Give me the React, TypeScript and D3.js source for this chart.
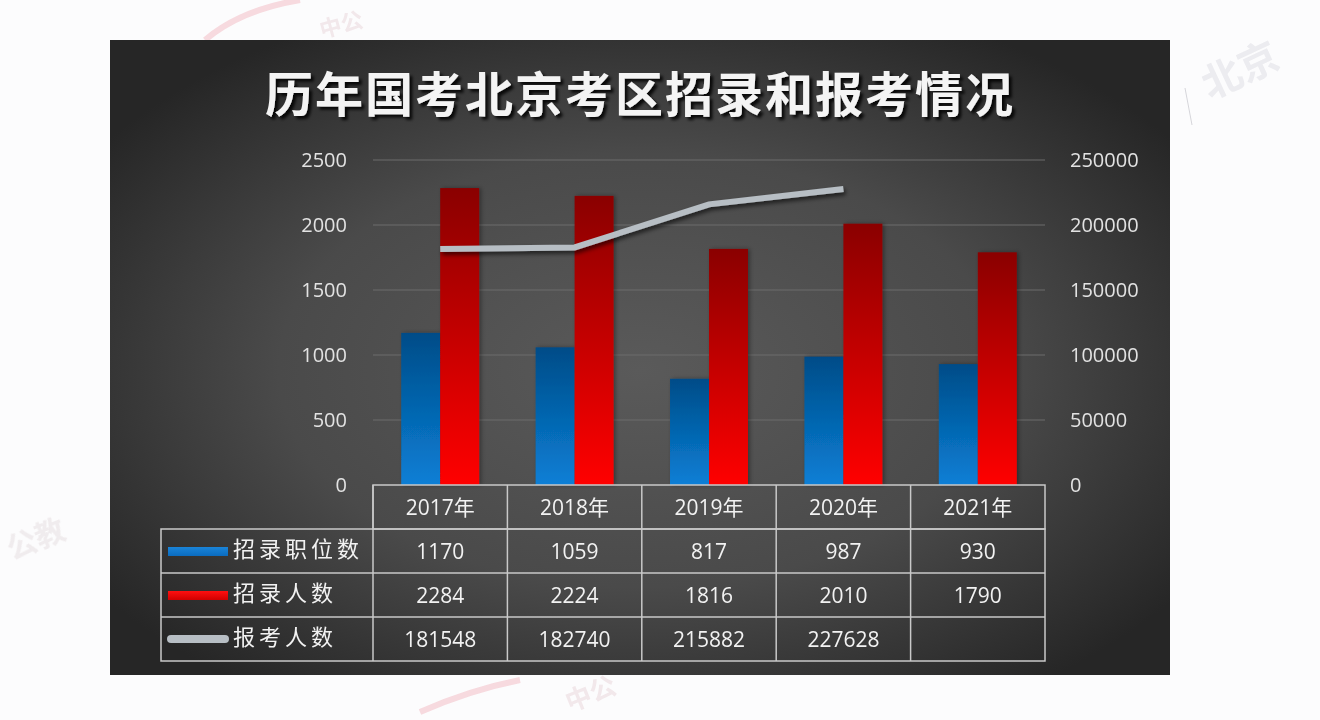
import * as d3 from 'd3';

const years = ['2017年', '2018年', '2019年', '2020年', '2021年'];
const positions = [1170, 1059, 817, 987, 930];
const hires = [2284, 2224, 1816, 2010, 1790];
const applicants: (number | null)[] = [181548, 182740, 215882, 227628, null];
const leftTicks = [0, 500, 1000, 1500, 2000, 2500];
const rightTicks = [0, 50000, 100000, 150000, 200000, 250000];
const seriesNames = ['招录职位数', '招录人数', '报考人数'];

const W = 1320;
const H = 720;
const panel = { x: 110, y: 40, w: 1060, h: 635 };
const plot = { left: 373, right: 1045, top: 160, bottom: 485 };
const rowEdges = [485, 529, 573, 617, 661];
const legendLeft = 161;

const NUM_FONT = '"Open Sans", "Noto Sans CJK SC", sans-serif';
const CJK_FONT = '"Noto Sans CJK SC", sans-serif';

export default function App() {
  const x = d3.scaleBand<string>().domain(years).range([plot.left, plot.right]).padding(0);
  const bw = x.bandwidth();
  const sub = d3.scaleBand<string>()
    .domain(['positions', 'hires'])
    .range([bw * 0.21, bw * 0.79])
    .padding(0);
  const yL = d3.scaleLinear().domain([0, 2500]).range([plot.bottom, plot.top]);
  const yR = d3.scaleLinear().domain([0, 250000]).range([plot.bottom, plot.top]);

  const line = d3.line<number | null>()
    .defined(d => d !== null)
    .x((_, i) => (x(years[i]) || 0) + bw / 2)
    .y(d => yR(d as number));

  const rows = [positions, hires, applicants];
  const rowMid = (i: number) => (rowEdges[i] + rowEdges[i + 1]) / 2;

  return (
    <svg width={W} height={H} style={{ position: 'fixed', left: 0, top: 0 }}>
      <defs>
        <radialGradient id="bg" cx="50%" cy="52%" r="62%">
          <stop offset="0%" stopColor="#5a5a5a" />
          <stop offset="55%" stopColor="#4a4a4a" />
          <stop offset="100%" stopColor="#262626" />
        </radialGradient>
        <linearGradient id="blueGrad" x1="0" y1="0" x2="0" y2="1">
          <stop offset="0%" stopColor="#004c88" />
          <stop offset="100%" stopColor="#0a7fd6" />
        </linearGradient>
        <linearGradient id="redGrad" x1="0" y1="0" x2="0" y2="1">
          <stop offset="0%" stopColor="#8a0000" />
          <stop offset="100%" stopColor="#ff0202" />
        </linearGradient>
        <linearGradient id="blueKey" x1="0" y1="0" x2="0" y2="1">
          <stop offset="0%" stopColor="#1a84d8" />
          <stop offset="100%" stopColor="#0a6cc0" />
        </linearGradient>
        <linearGradient id="redKey" x1="0" y1="0" x2="0" y2="1">
          <stop offset="0%" stopColor="#ff1010" />
          <stop offset="100%" stopColor="#d00000" />
        </linearGradient>
        <filter id="titleShadow" x="-10%" y="-30%" width="120%" height="160%">
          <feDropShadow dx="3" dy="3" stdDeviation="1.5" floodColor="#000" floodOpacity="0.85" />
        </filter>
        <filter id="lineShadow" x="-10%" y="-50%" width="120%" height="200%">
          <feDropShadow dx="2" dy="3" stdDeviation="2" floodColor="#000" floodOpacity="0.6" />
        </filter>
        <filter id="barShadow" x="-20%" y="-5%" width="140%" height="110%">
          <feDropShadow dx="2" dy="0" stdDeviation="2" floodColor="#000" floodOpacity="0.35" />
        </filter>
      </defs>

      <rect x={0} y={0} width={W} height={H} fill="#fcfcfd" />

      {/* faint watermarks on the page */}
      <g fontFamily={CJK_FONT} fontWeight="bold" opacity={0.5}>
        <path d="M205,40 Q240,10 300,0" stroke="#f2b8c0" strokeWidth={6} fill="none" />
        <text x={322} y={38} fontSize={22} fill="#e8d4d8" transform="rotate(-15 322 38)">中公</text>
        <text x={1210} y={100} fontSize={40} fill="#dcdce2" transform="rotate(-25 1210 100)">北京</text>
        <line x1={1185} y1={88} x2={1192} y2={125} stroke="#b0b0b8" strokeWidth={1} />
        <text x={12} y={560} fontSize={30} fill="#e4dcde" transform="rotate(-22 12 560)">公教</text>
        <path d="M420,712 Q470,690 520,680" stroke="#f2b8c0" strokeWidth={6} fill="none" />
        <text x={570} y={712} fontSize={26} fill="#e8d4d8" transform="rotate(-22 570 712)">中公</text>
      </g>

      <rect x={panel.x} y={panel.y} width={panel.w} height={panel.h} fill="url(#bg)" />

      <text
        x={640}
        y={112}
        textAnchor="middle"
        fontFamily={CJK_FONT}
        fontWeight="bold"
        fontSize={48}
        letterSpacing={2}
        fill="#f4f4f4"
        filter="url(#titleShadow)"
      >
        历年国考北京考区招录和报考情况
      </text>

      {/* gridlines */}
      {leftTicks.slice(1).map(t => (
        <line key={t} x1={plot.left} x2={plot.right} y1={yL(t)} y2={yL(t)} stroke="#6c6c6c" strokeWidth={1} />
      ))}

      {/* left axis labels */}
      {leftTicks.map(t => (
        <text key={t} x={347} y={yL(t)} dy="0.35em" textAnchor="end" fontFamily={NUM_FONT} fontSize={20} fill="#e2e2e2">
          {t}
        </text>
      ))}
      {/* right axis labels */}
      {rightTicks.map(t => (
        <text key={t} x={1070} y={yR(t)} dy="0.35em" textAnchor="start" fontFamily={NUM_FONT} fontSize={20} fill="#e2e2e2">
          {t}
        </text>
      ))}

      {/* bars */}
      {years.map((yr, i) => {
        const x0 = x(yr) || 0;
        return (
          <g key={yr} filter="url(#barShadow)">
            <rect
              x={x0 + (sub('positions') || 0)}
              y={yL(positions[i])}
              width={sub.bandwidth()}
              height={plot.bottom - yL(positions[i])}
              fill="url(#blueGrad)"
            />
            <rect
              x={x0 + (sub('hires') || 0)}
              y={yL(hires[i])}
              width={sub.bandwidth()}
              height={plot.bottom - yL(hires[i])}
              fill="url(#redGrad)"
            />
          </g>
        );
      })}

      {/* applicants line */}
      <path
        d={line(applicants) || ''}
        fill="none"
        stroke="#b7bec4"
        strokeWidth={6}
        strokeLinejoin="miter"
        filter="url(#lineShadow)"
      />

      {/* data table */}
      <g stroke="#c9c9c9" strokeWidth={1.5} fill="none">
        <rect x={plot.left} y={rowEdges[0]} width={plot.right - plot.left} height={rowEdges[1] - rowEdges[0]} />
        <rect x={legendLeft} y={rowEdges[1]} width={plot.right - legendLeft} height={rowEdges[4] - rowEdges[1]} />
        {rowEdges.slice(2, 4).map(y => (
          <line key={y} x1={legendLeft} x2={plot.right} y1={y} y2={y} />
        ))}
        {years.map(yr => (
          <line key={yr} x1={x(yr) || 0} x2={x(yr) || 0} y1={rowEdges[0]} y2={rowEdges[4]} />
        ))}
      </g>

      {years.map(yr => (
        <text
          key={yr}
          x={(x(yr) || 0) + bw / 2}
          y={rowMid(0)}
          dy="0.36em"
          textAnchor="middle"
          fontFamily={NUM_FONT}
          fontSize={21}
          fill="#f2f2f2"
        >
          {yr}
        </text>
      ))}

      {rows.map((vals, r) =>
        vals.map((v, i) =>
          v === null ? null : (
            <text
              key={`${r}-${i}`}
              x={(x(years[i]) || 0) + bw / 2}
              y={rowMid(r + 1)}
              dy="0.36em"
              textAnchor="middle"
              fontFamily={NUM_FONT}
              fontSize={21}
              fill="#f2f2f2"
            >
              {v}
            </text>
          )
        )
      )}

      {/* legend keys */}
      <rect x={168} y={rowMid(1) - 4} width={60} height={9} fill="url(#blueKey)" />
      <rect x={168} y={rowMid(2) - 4} width={60} height={9} fill="url(#redKey)" />
      <rect x={167} y={rowMid(3) - 4} width={62} height={8} rx={4} fill="#b7bec4" />
      {seriesNames.map((n, i) => (
        <text
          key={n}
          x={233}
          y={rowMid(i + 1) - 2}
          dy="0.36em"
          fontFamily={CJK_FONT}
          fontSize={22}
          letterSpacing={4}
          fill="#f2f2f2"
        >
          {n}
        </text>
      ))}
    </svg>
  );
}
